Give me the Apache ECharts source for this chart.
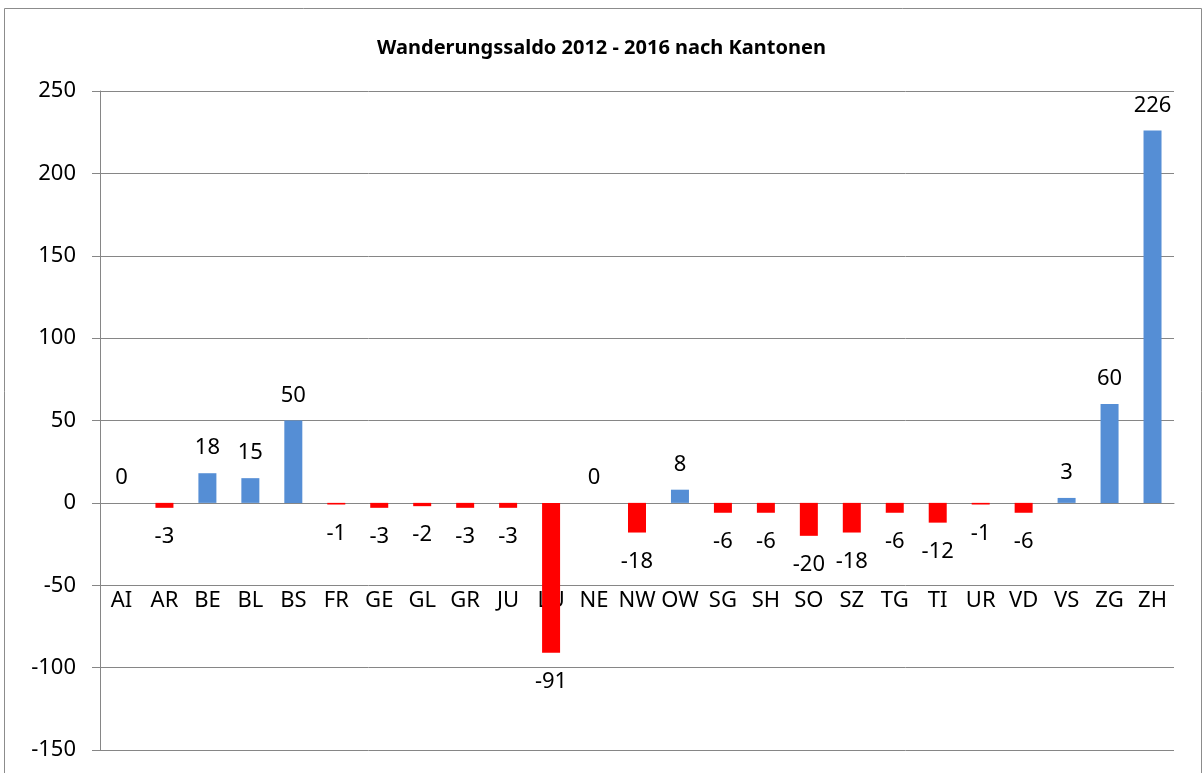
<!DOCTYPE html>
<html>
<head>
<meta charset="utf-8">
<script src="https://cdn.jsdelivr.net/npm/echarts@6/dist/echarts.min.js"></script>
<style>
html, body { margin: 0; padding: 0; background: #fff; }
#main { width: 1203px; height: 773px; }
</style>
</head>
<body>
<div id="main"></div>
<script>
var myChart = echarts.init(document.getElementById('main'));

var kantone = ['AI', 'AR', 'BE', 'BL', 'BS', 'FR', 'GE', 'GL', 'GR', 'JU', 'LU', 'NE', 'NW',
    'OW', 'SG', 'SH', 'SO', 'SZ', 'TG', 'TI', 'UR', 'VD', 'VS', 'ZG', 'ZH'];
var saldo = [0, -3, 18, 15, 50, -1, -3, -2, -3, -3, -91, 0, -18,
    8, -6, -6, -20, -18, -6, -12, -1, -6, 3, 60, 226];

var font = 'Noto Sans';

var barData = saldo.map(function (v) {
    var neg = v < 0;
    return {
        value: v,
        itemStyle: { color: neg ? '#FF0000' : '#558ED5' },
        label: { position: neg ? 'bottom' : 'top', distance: neg ? 18 : 14 }
    };
});

// plot area 91..750 px, y range -150..250 -> zero line sits 247 px above the bottom
var option = {
    backgroundColor: '#fff',
    animation: false,
    title: {
        text: 'Wanderungssaldo 2012 - 2016 nach Kantonen',
        left: 'center',
        top: 33,
        textStyle: {
            fontFamily: font,
            fontWeight: 'bold',
            fontSize: 20,
            color: '#000'
        }
    },
    graphic: [{
        type: 'rect',
        shape: { x: 4.5, y: 8.5, width: 1197, height: 800 },
        style: { fill: 'none', stroke: '#8c8c8c', lineWidth: 1 },
        silent: true
    }],
    grid: {
        left: 100,
        right: 29,
        top: 91,
        bottom: 23,
        outerBoundsMode: 'none'
    },
    xAxis: {
        type: 'category',
        data: kantone,
        position: 'bottom',
        offset: -247,
        axisLine: {
            onZero: false,
            lineStyle: { color: '#868686' }
        },
        axisTick: {
            length: 8,
            lineStyle: { color: '#868686' }
        },
        axisLabel: {
            interval: 0,
            hideOverlap: false,
            margin: 87,
            fontFamily: font,
            fontSize: 22,
            color: '#000'
        }
    },
    yAxis: {
        type: 'value',
        min: -150,
        max: 250,
        interval: 50,
        axisLine: {
            show: true,
            lineStyle: { color: '#868686' }
        },
        axisTick: {
            show: true,
            length: 8,
            lineStyle: { color: '#868686' }
        },
        splitLine: {
            show: true,
            lineStyle: { color: '#868686', width: 1 }
        },
        axisLabel: {
            margin: 24,
            fontFamily: font,
            fontSize: 22,
            color: '#000'
        }
    },
    series: [{
        type: 'bar',
        data: barData,
        barWidth: 18,
        label: {
            show: true,
            fontFamily: font,
            fontSize: 22,
            color: '#000'
        }
    }]
};

myChart.setOption(option);
</script>
</body>
</html>
